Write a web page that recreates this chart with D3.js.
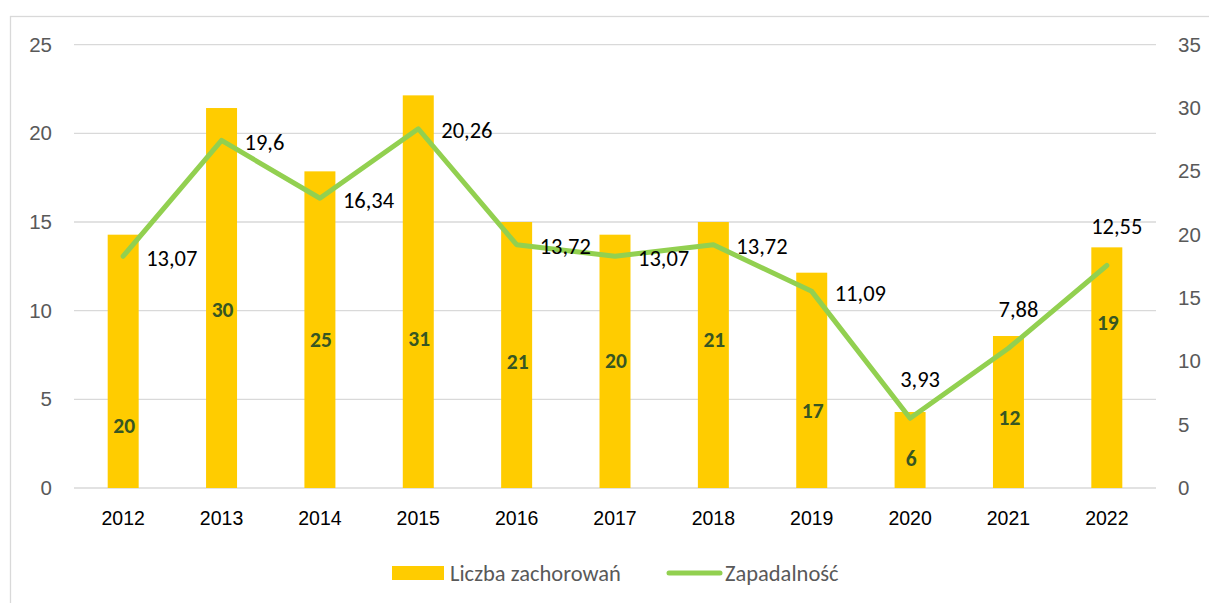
<!DOCTYPE html>
<html><head><meta charset="utf-8">
<script src="https://cdn.jsdelivr.net/npm/d3@7"></script>
<style>
body{margin:0;background:#fff;}
svg{display:block;font-family:Carlito,Lato,"Open Sans",sans-serif;}
</style></head>
<body><svg id="chart" width="1209" height="603"></svg>
<script>
// ---- data ----
const years = ["2012","2013","2014","2015","2016","2017","2018","2019","2020","2021","2022"];
const cases = [20,30,25,31,21,20,21,17,6,12,19];                 // Liczba zachorowań (right axis)
const incidence = [13.07,19.6,16.34,20.26,13.72,13.07,13.72,11.09,3.93,7.88,12.55]; // Zapadalność (left axis)
const leftTicks = [0,5,10,15,20,25];
const rightTicks = [0,5,10,15,20,25,30,35];
const seriesNames = ["Liczba zachorowań","Zapadalność"];
// label layout (axis units for bar labels, placement for line labels)
const barLabelAt = [4.9,14.1,11.7,11.8,10.0,10.1,11.7,6.1,2.3,5.6,13.1];
const lineLabelSide = ["r","r","r","r","r","r","r","r","t","t","t"];

const svg = d3.select("#chart");
const L = 74, R = 1156, T = 44.7, B = 488;

// chart border (cut at right/bottom)
svg.append("rect").attr("x",10.5).attr("y",16.5).attr("width",1300).attr("height",700)
  .attr("fill","none").attr("stroke","#D9D9D9").attr("stroke-width",1.3);

const x = d3.scaleBand().domain(years).range([L,R]).padding(0);
const yL = d3.scaleLinear().domain([0,25]).range([B,T]);
const yR = d3.scaleLinear().domain([0,35]).range([B,T]);

// gridlines
svg.append("g").selectAll("line").data(leftTicks).join("line")
  .attr("x1",L).attr("x2",R).attr("y1",d=>yL(d)).attr("y2",d=>yL(d))
  .attr("stroke","#D9D9D9").attr("stroke-width",1.3);

// left axis
const axL = svg.append("g").attr("transform",`translate(${L},0)`)
  .call(d3.axisLeft(yL).tickValues(leftTicks).tickSize(0).tickPadding(22));
axL.select(".domain").remove();
axL.selectAll("text").attr("fill","#595959").attr("font-size",20.5).attr("font-family",null);

// right axis
const axR = svg.append("g").attr("transform",`translate(${R},0)`)
  .call(d3.axisRight(yR).tickValues(rightTicks).tickSize(0).tickPadding(22));
axR.select(".domain").remove();
axR.selectAll("text").attr("fill","#595959").attr("font-size",20.5).attr("font-family",null);

// bottom axis
const axB = svg.append("g").attr("transform",`translate(0,${B})`)
  .call(d3.axisBottom(x).tickSize(0).tickPadding(23));
axB.select(".domain").remove();
axB.selectAll("text").attr("fill","#000").attr("font-size",19.5).attr("font-family",null);

// bars
const bw = x.bandwidth()*0.315;
svg.append("g").selectAll("rect").data(years).join("rect")
  .attr("x",d=>x(d)+(x.bandwidth()-bw)/2).attr("width",bw)
  .attr("y",(d,i)=>yR(cases[i])).attr("height",(d,i)=>B-yR(cases[i]))
  .attr("fill","#FFCC00");

// bar labels
svg.append("g").selectAll("text").data(years).join("text")
  .attr("x",d=>x(d)+x.bandwidth()/2+1).attr("y",(d,i)=>yR(barLabelAt[i]))
  .attr("dy","0.35em").attr("text-anchor","middle")
  .attr("font-size",21.5).attr("font-weight","bold").attr("fill","#375623")
  .text((d,i)=>cases[i]);

// line
const line = d3.line().x(d=>x(d[0])+x.bandwidth()/2).y(d=>yL(d[1]));
svg.append("path").datum(years.map((y,i)=>[y,incidence[i]]))
  .attr("d",line).attr("fill","none").attr("stroke","#92D050")
  .attr("stroke-width",5).attr("stroke-linejoin","round").attr("stroke-linecap","round");

// line labels
const fmt = v => String(v).replace(".",",");
svg.append("g").selectAll("text").data(years).join("text")
  .attr("x",(d,i)=>x(d)+x.bandwidth()/2 + (lineLabelSide[i]==="r"?23:10))
  .attr("y",(d,i)=>yL(incidence[i]) + (lineLabelSide[i]==="r"?1.5:-39))
  .attr("dy","0.35em")
  .attr("text-anchor",(d,i)=>lineLabelSide[i]==="r"?"start":"middle")
  .attr("font-size",22.5).attr("fill","#000")
  .text((d,i)=>fmt(incidence[i]));

// legend
const lg = svg.append("g");
lg.append("rect").attr("x",392).attr("y",566).attr("width",52).attr("height",14).attr("fill","#FFCC00");
lg.append("text").attr("x",450).attr("y",573).attr("dy","0.35em").attr("font-size",22.5)
  .attr("fill","#595959").text(seriesNames[0]);
lg.append("line").attr("x1",669).attr("x2",720).attr("y1",573).attr("y2",573)
  .attr("stroke","#92D050").attr("stroke-width",5).attr("stroke-linecap","round");
lg.append("text").attr("x",725).attr("y",573).attr("dy","0.35em").attr("font-size",22.5)
  .attr("fill","#595959").text(seriesNames[1]);
</script></body></html>
